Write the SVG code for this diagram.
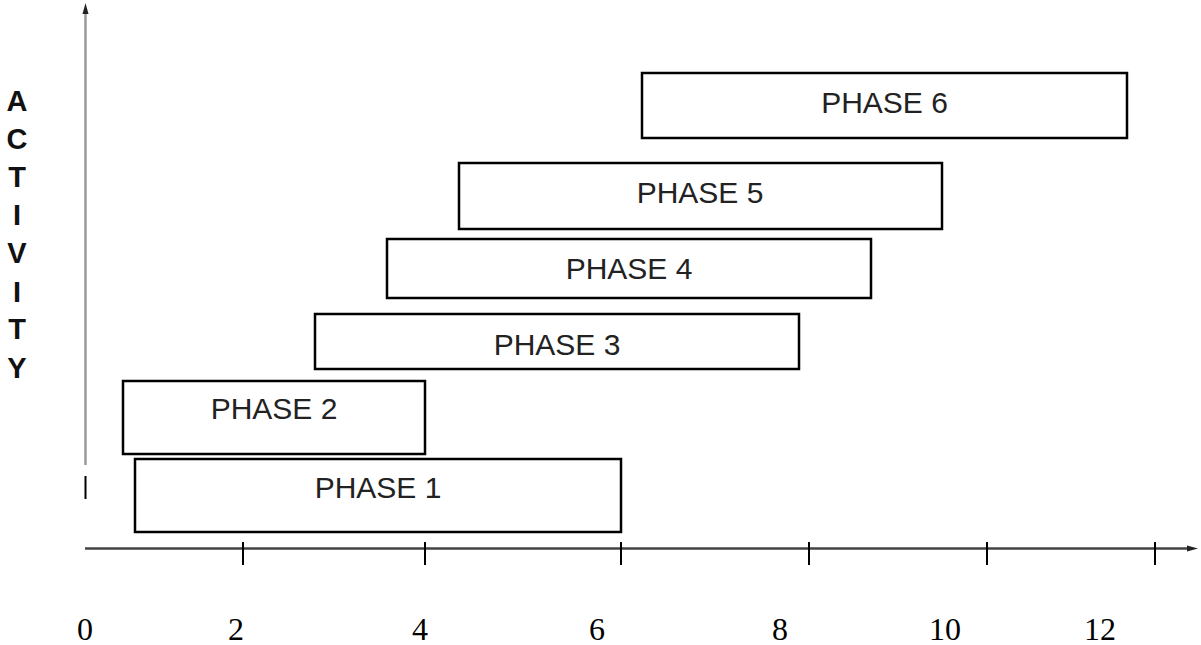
<svg xmlns="http://www.w3.org/2000/svg" width="1201" height="645" viewBox="0 0 1201 645">
<style>
.box{fill:#fff;stroke:#000;stroke-width:2.5}
.lbl{font-family:"Liberation Sans",Arial,sans-serif;font-size:30px;fill:#222;text-anchor:middle}
.v{font-family:"Liberation Sans",Arial,sans-serif;font-size:29px;font-weight:bold;fill:#111;text-anchor:middle}
.num{font-family:"Liberation Serif","Times New Roman",serif;font-size:32px;fill:#000;text-anchor:middle}
.tick{stroke:#000;stroke-width:2}
</style>
<rect width="1201" height="645" fill="#fff"/>
<g id="connectors">
  <line x1="85.5" y1="12" x2="85.5" y2="465" stroke="#999" stroke-width="2.5"/>
  <path d="M85.5 3 L88.5 14 L82.5 14 Z" fill="#222"/>
  <line x1="85.5" y1="476" x2="85.5" y2="499" stroke="#000" stroke-width="2"/>
  <line x1="85" y1="548.5" x2="1190" y2="548.5" stroke="#444" stroke-width="2.5"/>
  <path d="M1198 548.5 L1187 545.5 L1187 551.5 Z" fill="#222"/>
  <line class="tick" x1="243" y1="542" x2="243" y2="565"/>
  <line class="tick" x1="425" y1="542" x2="425" y2="565"/>
  <line class="tick" x1="621" y1="542" x2="621" y2="565"/>
  <line class="tick" x1="809" y1="542" x2="809" y2="565"/>
  <line class="tick" x1="987" y1="542" x2="987" y2="565"/>
  <line class="tick" x1="1155" y1="542" x2="1155" y2="565"/>
</g>
<g id="axis-y-label">
  <text class="v" x="17" y="111">A</text>
  <text class="v" x="17" y="149">C</text>
  <text class="v" x="17" y="187">T</text>
  <text class="v" x="17" y="225">I</text>
  <text class="v" x="17" y="263">V</text>
  <text class="v" x="17" y="302">I</text>
  <text class="v" x="17" y="339">T</text>
  <text class="v" x="17" y="378">Y</text>
</g>
<g id="axis-x-labels">
  <text class="num" x="85" y="640">0</text>
  <text class="num" x="236" y="640">2</text>
  <text class="num" x="420" y="640">4</text>
  <text class="num" x="597" y="640">6</text>
  <text class="num" x="780" y="640">8</text>
  <text class="num" x="945" y="640">10</text>
  <text class="num" x="1100" y="640">12</text>
</g>
<g id="phase6"><rect class="box" x="642" y="73" width="485" height="65"/><text class="lbl" x="884.5" y="113">PHASE 6</text></g>
<g id="phase5"><rect class="box" x="459" y="163" width="483" height="66"/><text class="lbl" x="700" y="203">PHASE 5</text></g>
<g id="phase4"><rect class="box" x="387" y="239" width="484" height="59"/><text class="lbl" x="629" y="279">PHASE 4</text></g>
<g id="phase3"><rect class="box" x="315" y="314" width="484" height="55"/><text class="lbl" x="557" y="355">PHASE 3</text></g>
<g id="phase2"><rect class="box" x="123" y="381" width="302" height="73"/><text class="lbl" x="274" y="419">PHASE 2</text></g>
<g id="phase1"><rect class="box" x="135" y="459" width="486" height="73"/><text class="lbl" x="378" y="498">PHASE 1</text></g>
</svg>
